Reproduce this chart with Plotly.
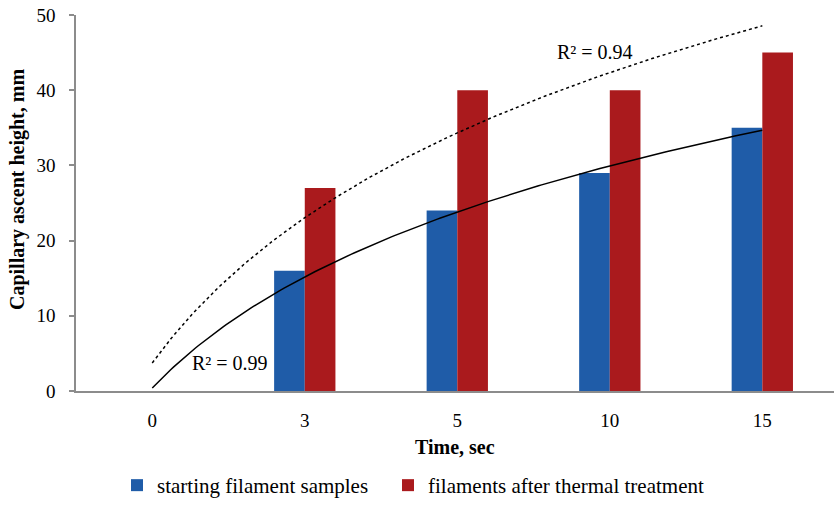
import numpy as np
import plotly.graph_objects as go

categories = ["0", "3", "5", "10", "15"]
starting = [0, 16, 24, 29, 35]
treated = [0, 27, 40, 40, 45]
r2_labels = ["R² = 0.99", "R² = 0.94"]

BLUE = "#1f5ca8"
RED = "#aa1a1d"
FONT = "Liberation Serif, Times New Roman, serif"

idx = np.arange(len(categories))

def log_fit(vals):
    xs = np.log(idx + 1.0)
    a, b = np.polyfit(xs, np.array(vals, float), 1)
    xx = np.linspace(0, len(categories) - 1, 200)
    return xx, a * np.log(xx + 1.0) + b

fig = go.Figure()
fig.add_trace(go.Bar(x=idx, y=starting, name="starting filament samples",
                     marker=dict(color=BLUE, line=dict(width=0)), legend="legend"))
fig.add_trace(go.Bar(x=idx, y=treated, name="filaments after thermal treatment",
                     marker=dict(color=RED, line=dict(width=0)), legend="legend2"))

tx, ty = log_fit(starting)
fig.add_trace(go.Scatter(x=tx, y=ty, mode="lines", line=dict(color="black", width=1.5),
                         showlegend=False, hoverinfo="skip"))
tx2, ty2 = log_fit(treated)
fig.add_trace(go.Scatter(x=tx2, y=ty2, mode="lines",
                         line=dict(color="black", width=1.5, dash="3px,3px"),
                         showlegend=False, hoverinfo="skip"))

leg_common = dict(orientation="h", yref="container", xref="container",
                  yanchor="bottom", y=-0.01,
                  xanchor="left", font=dict(family=FONT, size=21, color="black"),
                  itemwidth=30, bgcolor="rgba(0,0,0,0)")

fig.update_layout(
    width=834, height=506,
    margin=dict(l=76, r=0, t=15, b=115, autoexpand=False),
    plot_bgcolor="white", paper_bgcolor="white",
    barmode="group", bargap=0.598, bargroupgap=0,
    font=dict(family=FONT, size=19, color="black"),
    showlegend=True,
    legend=dict(x=117 / 834, **leg_common),
    legend2=dict(x=388 / 834, **leg_common),
    xaxis=dict(range=[-0.5, 4.47], tickmode="array", tickvals=idx, ticktext=categories,
               showline=True, linecolor="#8c8c8c", linewidth=1.5, showgrid=False,
               ticks="", zeroline=False, fixedrange=True, ticklabelstandoff=11),
    yaxis=dict(range=[0, 50], dtick=10, showline=True, linecolor="#8c8c8c", linewidth=1.5,
               ticks="outside", ticklen=5, tickcolor="#8c8c8c", tickwidth=1.5,
               showgrid=False, zeroline=False, ticklabelstandoff=10),
    annotations=[
        dict(text="<b>Time, sec</b>", xref="paper", yref="paper", x=0.5, y=-56 / 376,
             xanchor="center", yanchor="middle", showarrow=False,
             font=dict(family=FONT, size=20)),
        dict(text="<b>Capillary ascent height, mm</b>", xref="paper", yref="paper",
             x=(17 - 76) / 758, y=(391 - 190) / 376, xanchor="center", yanchor="middle",
             textangle=-90, showarrow=False, font=dict(family=FONT, size=20)),
        dict(text=r2_labels[0], x=0.51, y=3.7, xref="x", yref="y", showarrow=False,
             font=dict(family=FONT, size=20)),
        dict(text=r2_labels[1], x=2.9, y=45.1, xref="x", yref="y", showarrow=False,
             font=dict(family=FONT, size=20)),
    ],
)

fig.write_html("out.html")
